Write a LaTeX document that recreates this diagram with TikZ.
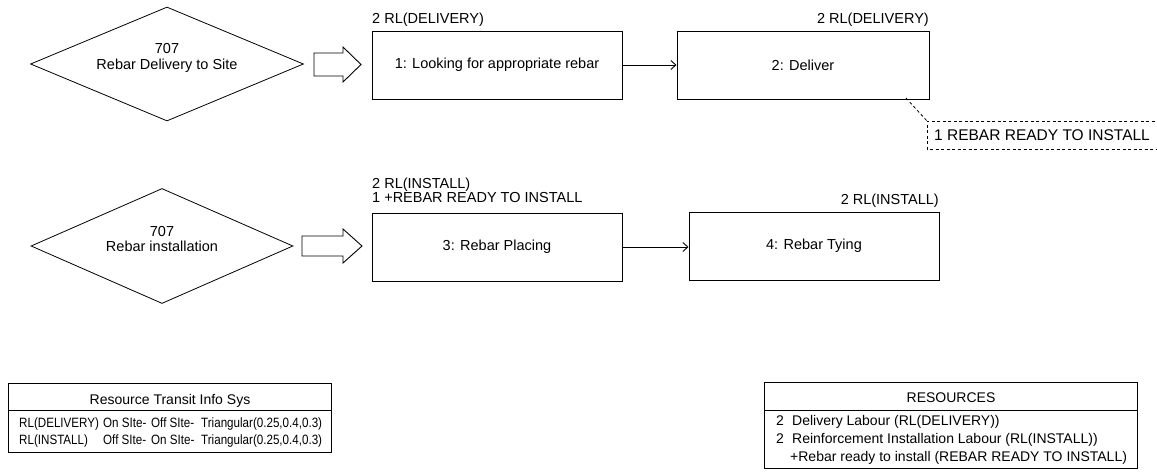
\documentclass[tikz,border=0pt]{standalone}
\usepackage{fontspec}
\setmainfont{Liberation Sans}
\newfontfamily\rowfont[FakeStretch=0.86]{Liberation Sans}
\usetikzlibrary{shapes.geometric,arrows.meta}
\tikzset{
  txt/.style={inner sep=0pt, font=\fontsize{14.5}{16}\selectfont},
  rowtxt/.style={inner sep=0pt, font=\rowfont\fontsize{13.5}{15}\selectfont},
  tbltxt/.style={inner sep=0pt, font=\fontsize{14}{16}\selectfont},
  stepbox/.style={draw, line width=1pt, minimum width=250pt, minimum height=68pt, inner sep=0pt, font=\fontsize{14.5}{16}\selectfont},
  combi/.style={draw, line width=0.8pt, shape=diamond, inner sep=0pt},
  flow/.style={line width=0.9pt, -{Straight Barb[length=5pt,width=9pt]}},
  blockarrow/.style={draw, line width=0.9pt, fill=white},
  tbl/.style={draw, line width=0.9pt},
  dashy/.style={line width=0.8pt, dash pattern=on 3pt off 2.5pt},
}
\begin{document}
\begin{tikzpicture}[x=1pt,y=-1pt]
\useasboundingbox (0,0) rectangle (1157,474);

% ---------- upper chain ----------
\node[combi, minimum width=273pt, minimum height=114pt] (d1) at (167,64) {};
\node[txt, anchor=base] (d1a) at (167,53) {707};
\node[txt, anchor=base] (d1b) at (167,69) {Rebar Delivery to Site};

\path[blockarrow] (314,53) -- (343,53) -- (343,47) -- (361,64.5) -- (343,82) -- (343,76) -- (314,76) -- cycle;

\node[stepbox] (b1) at (497,65) {1: Looking for appropriate rebar};
\node[txt, anchor=base west] (l1) at (372,23) {2 RL(DELIVERY)};

\node[stepbox, minimum width=252pt] (b2) at (803,65) {2: Deliver};
\node[txt, anchor=base east] (l2) at (929,23) {2 RL(DELIVERY)};

\draw[flow] (b1.east) -- (b2.west);

\coordinate (q1) at (906,98);
\coordinate (q2) at (927,121);
\draw[dashy] (q1) -- (q2);
\draw[dashy] (1160,121) -- (q2) -- (927,149) -- (1160,149);
\node[txt, anchor=base west, font=\fontsize{15.5}{17}\selectfont] (q3) at (934,140.5) {1 REBAR READY TO INSTALL};

% ---------- lower chain ----------
\node[combi, minimum width=262pt, minimum height=115pt] (d2) at (162,246) {};
\node[txt, anchor=base] (d2a) at (162,236) {707};
\node[txt, anchor=base] (d2b) at (162,251) {Rebar installation};

\path[blockarrow] (302,236) -- (343,236) -- (343,229) -- (362,246) -- (343,263) -- (343,256) -- (302,256) -- cycle;

\node[stepbox] (b3) at (497,247) {3: Rebar Placing};
\node[txt, anchor=base west] (l3a) at (372,188) {2 RL(INSTALL)};
\node[txt, anchor=base west] (l3b) at (372,202) {1 +REBAR READY TO INSTALL};

\node[stepbox] (b4) at (814,246) {4: Rebar Tying};
\node[txt, anchor=base east] (l4) at (939,204) {2 RL(INSTALL)};

\draw[flow] (b3.east) -- (b4.west |- b3.east);

% ---------- table 1 ----------
\draw[tbl] (8,383) rectangle (331,452);
\draw[tbl] (8,410) -- (331,410);
\node[tbltxt, anchor=base] (t1h) at (170,404) {Resource Transit Info Sys};
\node[rowtxt, anchor=base west] (t1a) at (19,427) {RL(DELIVERY)};
\node[rowtxt, anchor=base west] (t1b) at (103,427) {On SIte-};
\node[rowtxt, anchor=base west] (t1c) at (151,427) {Off SIte-};
\node[rowtxt, anchor=base west] (t1d) at (201,427) {Triangular(0.25,0.4,0.3)};
\node[rowtxt, anchor=base west] (t1e) at (19,444) {RL(INSTALL)};
\node[rowtxt, anchor=base west] (t1f) at (103,444) {Off SIte-};
\node[rowtxt, anchor=base west] (t1g) at (151,444) {On SIte-};
\node[rowtxt, anchor=base west] (t1k) at (201,444) {Triangular(0.25,0.4,0.3)};

% ---------- table 2 ----------
\draw[tbl] (764,382) rectangle (1137,468);
\draw[tbl] (764,410) -- (1137,410);
\node[tbltxt, anchor=base] (t2h) at (951,402) {RESOURCES};
\node[tbltxt, anchor=base west] (t2a) at (776,425) {2};
\node[tbltxt, anchor=base west] (t2b) at (792,425) {Delivery Labour (RL(DELIVERY))};
\node[tbltxt, anchor=base west] (t2c) at (776,443) {2};
\node[tbltxt, anchor=base west] (t2d) at (792,443) {Reinforcement Installation Labour (RL(INSTALL))};
\node[tbltxt, anchor=base west] (t2e) at (790,461) {+Rebar ready to install (REBAR READY TO INSTALL)};
\end{tikzpicture}
\end{document}
